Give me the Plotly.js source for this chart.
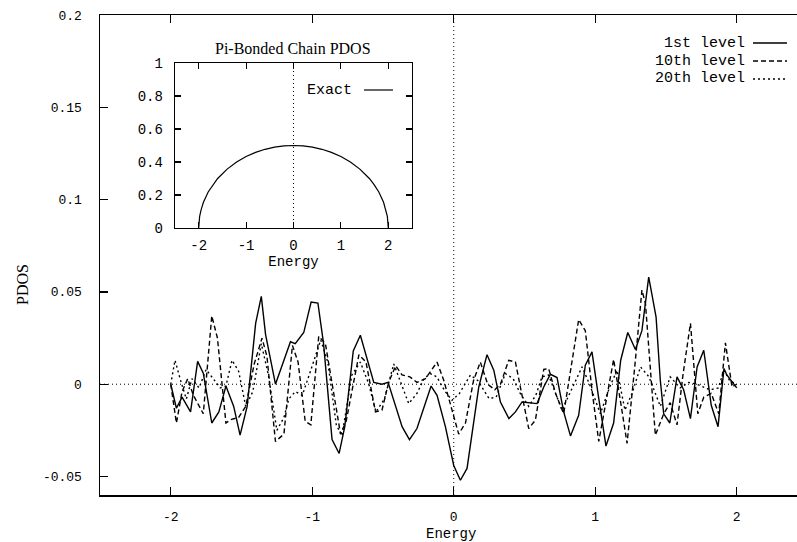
<!DOCTYPE html>
<html><head><meta charset="utf-8">
<script src="https://cdn.plot.ly/plotly-3.0.1.min.js"></script>
<style>html,body{margin:0;padding:0;background:#fff;overflow:hidden}</style>
</head><body><div id="chart" style="width:797px;height:542px"></div>
<script>
const seriesNames = ["1st level", "10th level", "20th level"];

const level1E = [-2.00,-1.96,-1.92,-1.86,-1.81,-1.77,-1.71,-1.66,-1.61,-1.555,-1.51,-1.46,-1.40,-1.36,-1.33,-1.26,-1.20,-1.154,-1.12,-1.06,-1.008,-0.96,-0.92,-0.86,-0.81,-0.77,-0.71,-0.66,-0.565,-0.507,-0.464,-0.365,-0.313,-0.26,-0.16,-0.118,-0.059,0.0,0.047,0.094,0.177,0.235,0.283,0.33,0.39,0.436,0.483,0.53,0.589,0.636,0.683,0.73,0.777,0.825,0.883,0.93,0.977,1.025,1.076,1.13,1.18,1.23,1.284,1.33,1.378,1.40,1.43,1.46,1.484,1.527,1.578,1.625,1.673,1.72,1.767,1.82,1.868,1.91,1.93,2.0];
const level1 = [0.000,-0.013,-0.007,-0.015,0.0124,0.006,-0.021,-0.015,-0.001,-0.012,-0.0276,-0.012,0.033,0.0476,0.027,0.000,0.013,0.023,0.022,0.028,0.0445,0.044,0.022,-0.030,-0.0375,-0.023,0.018,0.0265,0.001,0.000,0.001,-0.023,-0.030,-0.024,-0.001,-0.006,-0.023,-0.044,-0.052,-0.0456,-0.0015,0.016,0.0076,-0.0096,-0.0186,-0.015,-0.0096,-0.010,-0.0105,-0.0015,0.0054,0.0036,-0.015,-0.028,-0.0168,0.0103,0.0175,-0.0078,-0.0335,-0.021,0.013,0.028,0.0188,0.029,0.058,0.049,0.0364,0.002,-0.016,-0.021,0.004,-0.003,-0.0186,0.0094,0.0184,-0.0114,-0.023,0.0085,0.005,-0.002];

const level10E = [-2.00,-1.96,-1.92,-1.88,-1.84,-1.77,-1.71,-1.67,-1.61,-1.57,-1.52,-1.47,-1.41,-1.355,-1.32,-1.26,-1.20,-1.14,-1.10,-1.05,-1.01,-0.954,-0.907,-0.80,-0.76,-0.67,-0.62,-0.553,-0.507,-0.46,-0.41,-0.365,-0.31,-0.26,-0.20,-0.118,-0.07,-0.02,0.035,0.083,0.14,0.188,0.24,0.29,0.33,0.389,0.436,0.48,0.53,0.577,0.636,0.671,0.72,0.777,0.83,0.883,0.93,0.98,1.025,1.08,1.13,1.18,1.225,1.28,1.33,1.355,1.425,1.484,1.53,1.578,1.62,1.673,1.725,1.767,1.82,1.873,1.92,1.967,2.0];
const level10 = [0.000,-0.021,-0.004,0.003,-0.006,-0.016,0.037,0.025,-0.021,-0.019,-0.018,-0.012,0.011,0.025,0.015,-0.031,-0.027,0.021,0.012,-0.020,-0.022,0.026,0.022,-0.027,-0.020,0.016,0.012,-0.015,-0.014,0.001,0.010,0.005,0.004,0.001,0.003,0.012,0.002,-0.012,-0.027,-0.021,0.002,0.012,0.000,-0.003,0.000,0.013,0.012,-0.005,-0.024,-0.0195,0.008,0.0085,-0.005,-0.016,0.010,0.035,0.029,-0.005,-0.031,-0.008,0.0134,-0.010,-0.032,0.010,0.051,0.0437,-0.0276,-0.016,-0.010,-0.022,0.005,0.033,-0.016,-0.007,-0.005,-0.016,0.0224,-0.0015,0.000];

const level20E = [-2.00,-1.97,-1.93,-1.89,-1.85,-1.80,-1.75,-1.70,-1.65,-1.61,-1.567,-1.52,-1.47,-1.42,-1.36,-1.31,-1.25,-1.20,-1.166,-1.12,-1.07,-1.00,-0.94,-0.89,-0.83,-0.79,-0.72,-0.66,-0.60,-0.55,-0.49,-0.424,-0.37,-0.318,-0.26,-0.21,-0.165,-0.12,-0.06,-0.012,0.04,0.118,0.17,0.25,0.30,0.365,0.42,0.47,0.53,0.58,0.624,0.67,0.765,0.83,0.907,0.96,1.036,1.10,1.154,1.21,1.26,1.32,1.38,1.46,1.53,1.60,1.66,1.72,1.81,1.87,1.91,1.95,2.0];
const level20 = [0.000,0.013,0.002,-0.008,0.003,-0.002,0.008,0.003,-0.002,-0.001,0.013,0.007,-0.012,-0.004,0.022,0.005,-0.025,-0.018,-0.008,-0.004,-0.006,0.010,0.024,0.012,-0.022,-0.028,0.005,0.012,0.000,-0.015,-0.008,0.011,0.000,-0.0105,-0.005,0.003,0.0058,0.004,-0.004,-0.0087,-0.005,0.005,0.002,-0.0078,-0.007,0.0058,0.003,-0.005,-0.012,-0.006,0.004,0.005,-0.014,-0.003,0.0094,0.000,-0.016,-0.002,0.0076,-0.014,-0.005,0.0094,0.004,-0.012,0.004,-0.002,0.001,0.000,-0.003,-0.002,0.0076,0.002,0.000];

const exactE = [-2,-1.98,-1.95,-1.9,-1.8,-1.7,-1.6,-1.4,-1.2,-1.0,-0.8,-0.6,-0.4,-0.2,0,0.2,0.4,0.6,0.8,1.0,1.2,1.4,1.6,1.7,1.8,1.9,1.95,1.98,2];
const exactPDOS = [0,0.07,0.11,0.156,0.218,0.263,0.30,0.357,0.40,0.433,0.458,0.477,0.49,0.4975,0.5,0.4975,0.49,0.477,0.458,0.433,0.40,0.357,0.30,0.263,0.218,0.156,0.11,0.07,0];
const exactName = "Exact";

const xTicks = [-2, -1, 0, 1, 2];
const xTickText = ["-2", "-1", "0", "1", "2"];
const yTicks = [-0.05, 0, 0.05, 0.1, 0.15, 0.2];
const yTickText = ["-0.05", "0", "0.05", "0.1", "0.15", "0.2"];
const insetYTicks = [0, 0.2, 0.4, 0.6, 0.8, 1];
const insetYTickText = ["0", "0.2", "0.4", "0.6", "0.8", "1"];
const mainTitleX = "Energy", mainTitleY = "PDOS", insetTitle = "Pi-Bonded Chain PDOS";

const MONO = "'Liberation Mono', 'Courier New', monospace";
const SERIF = "'Liberation Serif', 'Times New Roman', serif";
const W = 797, H = 542, ML = 100, MT = 15, MB = 47, MR = 0;
const PW = W - ML - MR, PH = H - MT - MB;
const px = x => (x - ML) / PW;
const py = y => (H - MB - y) / PH;

const dashes = ["solid", "5px,3px", "2px,3px"];
const lw = 1.4;

const traces = [
  {x: level1E, y: level1, name: seriesNames[0], mode: "lines", line: {color: "#000", width: lw, dash: dashes[0]}, xaxis: "x", yaxis: "y"},
  {x: level10E, y: level10, name: seriesNames[1], mode: "lines", line: {color: "#000", width: lw, dash: dashes[1]}, xaxis: "x", yaxis: "y"},
  {x: level20E, y: level20, name: seriesNames[2], mode: "lines", line: {color: "#000", width: lw, dash: dashes[2]}, xaxis: "x", yaxis: "y"},
  {x: exactE, y: exactPDOS, name: exactName, mode: "lines", line: {color: "#000", width: 1.2}, xaxis: "x2", yaxis: "y2"}
];

const shapes = [
  {type: "line", xref: "paper", yref: "y", x0: 0, x1: 1, y0: 0, y1: 0, line: {color: "#000", width: 1, dash: "1px,3px"}, layer: "below"},
  {type: "line", xref: "x", yref: "paper", x0: 0, x1: 0, y0: 0, y1: 1, line: {color: "#000", width: 1, dash: "1px,3px"}, layer: "below"},
  {type: "line", xref: "x2", yref: "y2", x0: 0, x1: 0, y0: 0, y1: 1, line: {color: "#000", width: 1, dash: "1px,3px"}, layer: "below"}
];
const annotations = [];
const legRowsY = [43, 61, 79];
seriesNames.forEach((n, i) => {
  annotations.push({text: n, xref: "paper", yref: "paper", x: px(747), y: py(legRowsY[i]), xanchor: "right", yanchor: "middle", showarrow: false, font: {family: MONO, size: 15, color: "#000"}});
  shapes.push({type: "line", xref: "paper", yref: "paper", x0: px(753), x1: px(787), y0: py(legRowsY[i]), y1: py(legRowsY[i]), line: {color: "#000", width: lw, dash: dashes[i]}});
});
annotations.push({text: exactName, xref: "paper", yref: "paper", x: px(354), y: py(90), xanchor: "right", yanchor: "middle", showarrow: false, font: {family: MONO, size: 15, color: "#000"}});
shapes.push({type: "line", xref: "paper", yref: "paper", x0: px(364), x1: px(393), y0: py(90), y1: py(90), line: {color: "#000", width: 1.2}});
annotations.push({text: insetTitle, xref: "paper", yref: "paper", x: px(293), y: py(49), xanchor: "center", yanchor: "middle", showarrow: false, font: {family: SERIF, size: 16, color: "#000"}});
annotations.push({text: mainTitleY, xref: "paper", yref: "paper", x: px(22), y: py(285), xanchor: "center", yanchor: "middle", textangle: -90, showarrow: false, font: {family: SERIF, size: 16, color: "#000"}});
annotations.push({text: mainTitleX, xref: "paper", yref: "paper", x: px(451), y: py(534), xanchor: "center", yanchor: "middle", showarrow: false, borderpad: 0, font: {family: MONO, size: 14, color: "#000"}});

const axBase = {showgrid: false, zeroline: false, showline: true, linecolor: "#000", ticks: "inside", tickcolor: "#000", automargin: false};

const layout = {
  width: W, height: H,
  margin: {l: ML, r: MR, t: MT, b: MB},
  paper_bgcolor: "#fff", plot_bgcolor: "rgba(0,0,0,0)",
  showlegend: false,
  xaxis: Object.assign({}, axBase, {domain: [0, 1], range: [-2.5, 2.426], tickvals: xTicks, ticktext: xTickText, linewidth: 1.5, tickwidth: 1.3, ticklen: 8, mirror: "ticks", tickfont: {family: MONO, size: 13, color: "#000"}, ticklabelstandoff: 9}),
  yaxis: Object.assign({}, axBase, {domain: [0, 1], range: [-0.06, 0.2], tickvals: yTicks, ticktext: yTickText, linewidth: 1.5, tickwidth: 1.3, ticklen: 8, mirror: false, tickfont: {family: MONO, size: 13, color: "#000"}, ticklabelstandoff: 14}),
  xaxis2: Object.assign({}, axBase, {domain: [px(175), px(412)], anchor: "y2", range: [-2.5, 2.5], tickvals: xTicks, ticktext: xTickText, linewidth: 1.3, tickwidth: 1.2, ticklen: 6, mirror: "ticks", tickfont: {family: MONO, size: 14, color: "#000"}, ticklabelstandoff: 4, title: {text: mainTitleX, font: {family: MONO, size: 14, color: "#000"}, standoff: 0}}),
  yaxis2: Object.assign({}, axBase, {domain: [py(228), py(63)], anchor: "x2", range: [0, 1], tickvals: insetYTicks, ticktext: insetYTickText, linewidth: 1.3, tickwidth: 1.2, ticklen: 6, mirror: "ticks", tickfont: {family: MONO, size: 14, color: "#000"}, ticklabelstandoff: 8}),
  shapes: shapes,
  annotations: annotations
};

Plotly.newPlot("chart", traces, layout, {staticPlot: true, displayModeBar: false});
</script>
</body></html>
